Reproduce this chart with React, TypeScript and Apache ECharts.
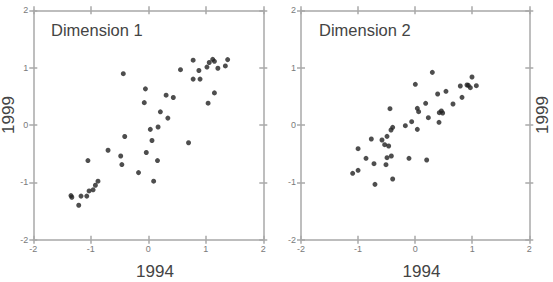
import React, { useEffect, useRef } from "react";
import * as echarts from "echarts";

const dim1X1994 = [-1.345, -1.33, -1.17, -1.21, -1.07, -1.03, -0.96, -0.92, -0.875, -1.05, -0.7, -0.48, -0.46, -0.41, -0.435, -0.17, -0.07, -0.05, -0.035, 0.035, 0.064, 0.093, 0.16, 0.17, 0.21, 0.31, 0.34, 0.435, 0.56, 0.7, 0.78, 0.78, 0.88, 0.9, 1.02, 1.04, 1.06, 1.12, 1.15, 1.15, 1.21, 1.34, 1.38];
const dim1Y1999 = [-1.23, -1.26, -1.24, -1.4, -1.24, -1.15, -1.13, -1.05, -0.98, -0.62, -0.44, -0.54, -0.69, -0.2, 0.895, -0.83, 0.39, 0.63, -0.48, -0.076, -0.27, -0.98, -0.62, -0.035, 0.23, 0.52, 0.12, 0.48, 0.965, -0.31, 1.13, 0.8, 0.95, 0.8, 1.01, 0.38, 1.09, 1.145, 1.11, 0.56, 0.99, 1.03, 1.14];

const dim2X1994 = [-1.095, -1.0, -1.0, -0.861, -0.768, -0.721, -0.704, -0.581, -0.534, -0.493, -0.464, -0.511, -0.493, -0.417, -0.441, -0.423, -0.394, -0.394, -0.172, -0.108, -0.061, 0.003, 0.038, 0.061, 0.038, 0.184, 0.202, 0.231, 0.301, 0.394, 0.418, 0.423, 0.459, 0.482, 0.54, 0.663, 0.791, 0.821, 0.908, 0.932, 0.967, 0.996, 1.072];
const dim2Y1999 = [-0.843, -0.79, -0.413, -0.581, -0.244, -0.674, -1.035, -0.262, -0.343, -0.198, -0.366, -0.692, -0.57, -0.541, 0.285, -0.087, -0.041, -0.942, -0.012, -0.581, 0.058, 0.709, 0.291, 0.232, -0.076, 0.378, -0.61, 0.128, 0.918, 0.541, 0.047, 0.215, 0.244, 0.209, 0.587, 0.366, 0.68, 0.482, 0.697, 0.692, 0.651, 0.837, 0.686];

const panelTitles = ["Dimension 1", "Dimension 2"];
const xAxisName = "1994";
const yAxisName = "1999";
const axisMin = -2;
const axisMax = 2;
const axisInterval = 1;

const FONT = "'Liberation Sans', Arial, sans-serif";
const AXIS_COLOR = "#a8a8a8";
const LABEL_COLOR = "#7a7a7a";

function zip(xs: number[], ys: number[]) {
  return xs.map((x, i) => [x, ys[i]]);
}

export default function App() {
  const ref = useRef<HTMLDivElement>(null);
  useEffect(() => {
    document.body.style.margin = "0";
    if (!ref.current) return;
    const chart = echarts.init(ref.current, undefined, { renderer: "svg" });

    const lineStyle = { color: AXIS_COLOR, width: 1.5 };
    const makeAxis = (gridIndex: number, position: string, labels: boolean, inside: boolean) => ({
      type: "value",
      gridIndex,
      position,
      min: axisMin,
      max: axisMax,
      interval: axisInterval,
      axisLine: { show: !inside, onZero: false, lineStyle },
      axisTick: { show: true, inside, length: 4, lineStyle },
      axisLabel: {
        show: labels && !inside,
        color: LABEL_COLOR,
        fontSize: 9,
        fontFamily: FONT,
        margin: 5,
      },
      splitLine: { show: false },
    });

    const grids = [
      { left: 33.3, top: 10.3, width: 230, height: 229.4 },
      { left: 301, top: 10.3, width: 228.3, height: 229.4 },
    ];

    const xAxes: any[] = [];
    const yAxes: any[] = [];
    [0, 1].forEach((g) => {
      xAxes.push(makeAxis(g, "bottom", true, false));
      xAxes.push(makeAxis(g, "top", false, false));
      xAxes.push(makeAxis(g, "bottom", false, true));
      xAxes.push(makeAxis(g, "top", false, true));
      yAxes.push(makeAxis(g, "left", true, false));
      yAxes.push(makeAxis(g, "right", false, false));
      yAxes.push(makeAxis(g, "left", false, true));
      yAxes.push(makeAxis(g, "right", false, true));
    });

    const titleStyle = (text: string) => ({
      text,
      font: `16.5px ${FONT}`,
      fill: "#444444",
      verticalAlign: "middle",
    });
    const nameStyle = (text: string) => ({
      text,
      font: `17px ${FONT}`,
      fill: "#444444",
      align: "center",
      verticalAlign: "middle",
    });

    const option: any = {
      animation: false,
      backgroundColor: "#ffffff",
      grid: grids,
      xAxis: xAxes,
      yAxis: yAxes,
      series: [
        {
          type: "scatter",
          xAxisIndex: 0,
          yAxisIndex: 0,
          data: zip(dim1X1994, dim1Y1999),
          symbolSize: 5,
          itemStyle: { color: "#222222" },
        },
        {
          type: "scatter",
          xAxisIndex: 4,
          yAxisIndex: 4,
          data: zip(dim2X1994, dim2Y1999),
          symbolSize: 5,
          itemStyle: { color: "#222222" },
        },
      ],
      graphic: [
        { type: "text", x: 51, y: 30, style: titleStyle(panelTitles[0]) },
        { type: "text", x: 319, y: 30, style: titleStyle(panelTitles[1]) },
        { type: "text", x: 155, y: 271, style: nameStyle(xAxisName) },
        { type: "text", x: 421.5, y: 271, style: nameStyle(xAxisName) },
        { type: "text", x: 8, y: 115, rotation: Math.PI / 2, style: nameStyle(yAxisName) },
        { type: "text", x: 542.5, y: 115, rotation: Math.PI / 2, style: nameStyle(yAxisName) },
      ],
    };
    chart.setOption(option);
    return () => chart.dispose();
  }, []);
  return <div ref={ref} style={{ width: 553, height: 282 }} />;
}
